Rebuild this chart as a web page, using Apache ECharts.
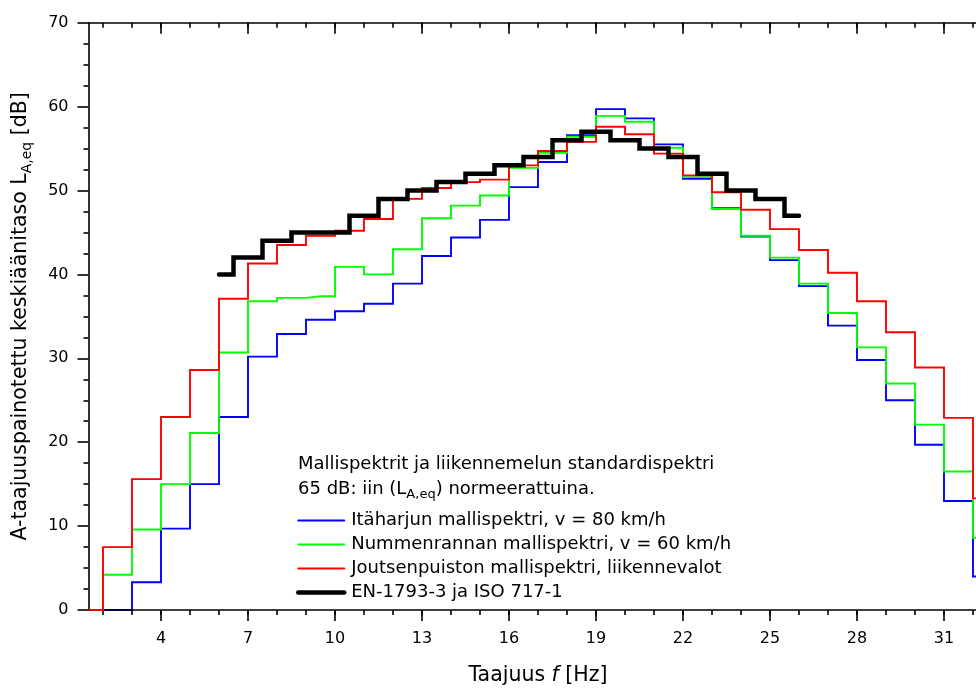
<!DOCTYPE html>
<html><head><meta charset="utf-8">
<script src="https://cdn.jsdelivr.net/npm/echarts@6/dist/echarts.min.js"></script>
<style>html,body{margin:0;padding:0;background:#fff}#c{width:976px;height:688px}</style>
</head><body><div id="c"></div>
<script>
// Band centres (third-octave band number + 0.5)
const bandX = [1.5,2.5,3.5,4.5,5.5,6.5,7.5,8.5,9.5,10.5,11.5,12.5,13.5,14.5,15.5,16.5,17.5,18.5,19.5,20.5,21.5,22.5,23.5,24.5,25.5,26.5,27.5,28.5,29.5,30.5,31.5,32.5];
const itaharju = [null,0,3.3,9.7,15.0,23.0,30.2,32.9,34.6,35.6,36.5,38.9,42.2,44.4,46.5,50.4,53.4,56.6,59.7,58.6,55.5,51.4,47.9,44.5,41.7,38.6,33.9,29.8,25.0,19.7,13.0,4.0];
const nummenranta = [0,4.2,9.6,15.0,21.1,30.7,36.8,37.2,37.4,40.9,40.0,43.0,46.7,48.2,49.4,52.7,54.5,56.4,58.9,58.2,55.1,51.6,47.8,44.6,42.0,38.9,35.4,31.3,27.0,22.1,16.5,8.6];
const joutsenpuisto = [0,7.5,15.6,23.0,28.6,37.1,41.3,43.5,44.6,45.2,46.6,49.0,50.3,51.0,51.3,53.0,54.7,55.8,57.6,56.7,54.4,51.8,49.8,47.7,45.4,42.9,40.2,36.8,33.1,28.9,22.9,13.3];
const standardX = [6,7,8,9,10,11,12,13,14,15,16,17,18,19,20,21,22,23,24,25,26];
const standardValues = [40,42,44,45,45,47,49,50,51,52,53,54,56,57,56,55,54,52,50,49,47];
const xTickLabels = [4,7,10,13,16,19,22,25,28,31];
const xMinorTicks = [2,3,4,5,6,7,8,9,10,11,12,13,14,15,16,17,18,19,20,21,22,23,24,25,26,27,28,29,30,31,32];
const seriesNames = ['Itäharjun mallispektri, v = 80 km/h','Nummenrannan mallispektri, v = 60 km/h','Joutsenpuiston mallispektri, liikennevalot','EN-1793-3 ja ISO 717-1'];
const seriesColors = ['#0000ff','#00ff00','#ff0000','#000000'];
const seriesWidths = [1.9,1.9,1.9,4.5];

const FF = '"DejaVu Sans", Verdana, sans-serif';
const pairs = (xs, ys) => xs.map((x, i) => [x, ys[i]]);
const X_MIN = 1.5, X_MAX = 32.5;
const axW = 1.6;

const chart = echarts.init(document.getElementById('c'), null, {renderer: 'canvas'});
const baseX = {type: 'value', min: X_MIN, max: X_MAX, splitLine: {show: false}, z: 1.5};
chart.setOption({
  animation: false,
  backgroundColor: '#fff',
  grid: {left: 88.5, right: -11.5, top: 22.7, bottom: 78, containLabel: false, outerBoundsMode: 'none'},
  xAxis: [
    Object.assign({}, baseX, {
      position: 'bottom',
      axisLine: {show: true, onZero: false, lineStyle: {color: '#000', width: axW}},
      axisTick: {show: true, inside: false, length: 11, customValues: xTickLabels, lineStyle: {color: '#000', width: axW}},
      axisLabel: {show: true, customValues: xTickLabels, margin: 21, fontFamily: FF, fontSize: 16, color: '#000'},
      name: 'Taajuus {i|f} [Hz]', nameLocation: 'middle', nameGap: 55,
      nameTextStyle: {fontFamily: FF, fontSize: 20.5, color: '#000', rich: {i: {fontFamily: FF, fontSize: 20.5, fontStyle: 'italic', color: '#000'}}}
    }),
    Object.assign({}, baseX, {
      position: 'bottom',
      axisLine: {show: false, onZero: false},
      axisTick: {show: true, inside: false, length: 5, customValues: xMinorTicks, lineStyle: {color: '#000', width: axW}},
      axisLabel: {show: false}
    }),
    Object.assign({}, baseX, {
      position: 'top',
      axisLine: {show: true, onZero: false, lineStyle: {color: '#000', width: axW}},
      axisTick: {show: true, inside: true, length: 11, customValues: xTickLabels, lineStyle: {color: '#000', width: axW}},
      axisLabel: {show: false}
    }),
    Object.assign({}, baseX, {
      position: 'top',
      axisLine: {show: false, onZero: false},
      axisTick: {show: true, inside: true, length: 5, customValues: xMinorTicks, lineStyle: {color: '#000', width: axW}},
      axisLabel: {show: false}
    })
  ],
  yAxis: [
    {
      type: 'value', min: 0, max: 70, interval: 10, position: 'left', z: 1.5,
      axisLine: {show: true, onZero: false, lineStyle: {color: '#000', width: axW}},
      axisTick: {show: true, inside: false, length: 11, lineStyle: {color: '#000', width: axW}},
      minorTick: {show: true, splitNumber: 4, length: 5, lineStyle: {color: '#000', width: axW}},
      splitLine: {show: false},
      axisLabel: {margin: 20, fontFamily: FF, fontSize: 16, color: '#000'},
      name: 'A-taajuuspainotettu keskiäänitaso L{s|A,eq} [dB]', nameLocation: 'middle', nameGap: 54.5,
      nameTextStyle: {fontFamily: FF, fontSize: 20.5, color: '#000', lineHeight: 26,
        rich: {s: {fontFamily: FF, fontSize: 14, color: '#000', lineHeight: 14, verticalAlign: 'bottom'}}}
    },
    {
      type: 'value', min: 0, max: 70, interval: 10, position: 'right', z: 1.5,
      axisLine: {show: true, onZero: false, lineStyle: {color: '#000', width: axW}},
      axisTick: {show: true, inside: true, length: 11, lineStyle: {color: '#000', width: axW}},
      minorTick: {show: true, splitNumber: 4, length: 5, lineStyle: {color: '#000', width: axW}},
      splitLine: {show: false},
      axisLabel: {show: false}
    }
  ],
  legend: {
    orient: 'vertical', left: 296, top: 511.5, itemWidth: 46, itemHeight: 18, itemGap: 6,
    selectedMode: false, padding: 0,
    itemStyle: {color: 'rgba(0,0,0,0)', borderWidth: 0, opacity: 0},
    textStyle: {fontFamily: FF, fontSize: 18, lineHeight: 18, color: '#000', padding: [0, 0, 0, 2]},
    data: seriesNames.map((n, i) => ({name: n, itemStyle: {color: 'rgba(0,0,0,0)', borderWidth: 0, opacity: 0},
      lineStyle: {color: seriesColors[i], width: seriesWidths[i], cap: 'round'}}))
  },
  graphic: [
    {type: 'text', x: 298, y: 464, style: {text: 'Mallispektrit ja liikennemelun standardispektri', fontFamily: FF, fontSize: 18, fill: '#000', align: 'left', verticalAlign: 'middle'}},
    {type: 'text', x: 298, y: 489, style: {text: '65 dB: iin (L{s|A,eq}) normeerattuina.', fontFamily: FF, fontSize: 18, lineHeight: 24, fill: '#000', align: 'left', verticalAlign: 'middle',
      rich: {s: {fontFamily: FF, fontSize: 13, lineHeight: 13, verticalAlign: 'bottom', fill: '#000'}}}}
  ],
  series: seriesNames.map((n, i) => {
    const xs = i === 3 ? standardX : bandX;
    const ys = [itaharju, nummenranta, joutsenpuisto, standardValues][i];
    return {
      name: n, type: 'line', step: 'middle', symbol: 'none', showSymbol: false, clip: true,
      z: [1, 1, 2, 3][i],
      data: pairs(xs, ys), color: seriesColors[i],
      lineStyle: {color: seriesColors[i], width: seriesWidths[i], cap: i === 3 ? 'round' : 'butt', join: 'miter'}
    };
  })
});
</script></body></html>
